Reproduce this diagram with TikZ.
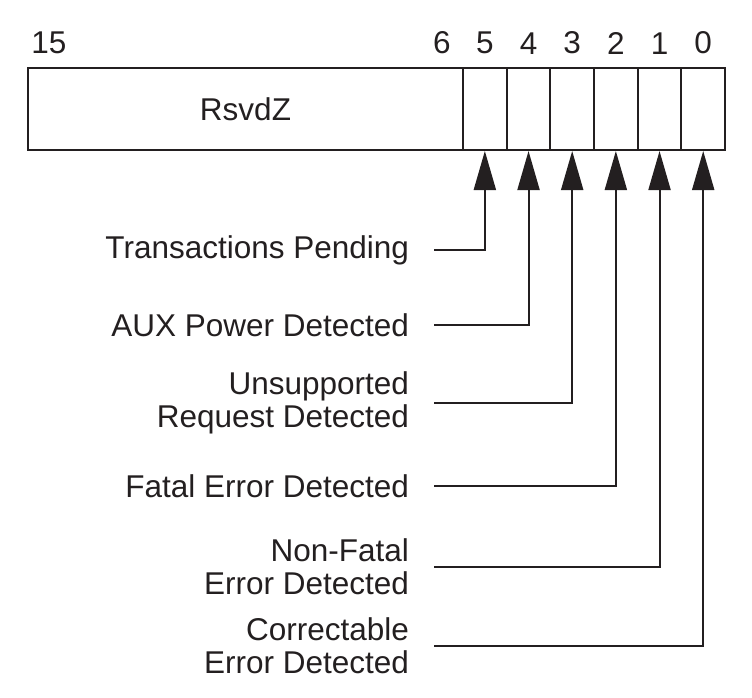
\documentclass[tikz,border=0pt]{standalone}
\usepackage{fontspec}
\setmainfont{Liberation Sans}
\usetikzlibrary{arrows.meta,positioning}
\definecolor{ink}{RGB}{35,31,32}
\tikzset{field/.style={draw, minimum height=82pt, inner sep=0pt},
    num/.style={inner sep=0pt},
    lbl/.style={anchor=east, align=right, inner sep=0pt}}
\begin{document}
\begin{tikzpicture}[>={Triangle[length=39pt,width=22pt]}, x=1pt, y=-1pt, line width=2pt, color=ink, font=\fontsize{31.5}{33}\selectfont]
    \useasboundingbox (0,0) rectangle (752,697);
    \node[field, minimum width=435pt] (rsvd) at (245.5,109) {RsvdZ};
    \node[num, anchor=south] (n15) at ([xshift=22pt, yshift=12pt]rsvd.north west) {15};
    \node[num, anchor=south] (n6) at ([xshift=-22pt, yshift=12pt]rsvd.north east) {6};
    \foreach \b in {0,...,5}
    {
        \node[field, minimum width=43.67pt] (b\b) at ({703.2-43.67*\b},109) {};
        \node[num, above=12pt of b\b.north] (d\b) {\b};
    }
    \foreach \b/\y/\txt in {5/250/{Transactions Pending}, 4/325/{AUX Power Detected}, 3/403/{Unsupported\\Request Detected}, 2/486/{Fatal Error Detected}, 1/567/{Non-Fatal\\Error Detected}, 0/646/{Correctable\\Error Detected}}
    {
        \node[lbl] (l\b) at (410,\y) {\txt};
        \draw[->] ([xshift=24pt]l\b.east) -| (b\b.south);
    }
\end{tikzpicture}
\end{document}
